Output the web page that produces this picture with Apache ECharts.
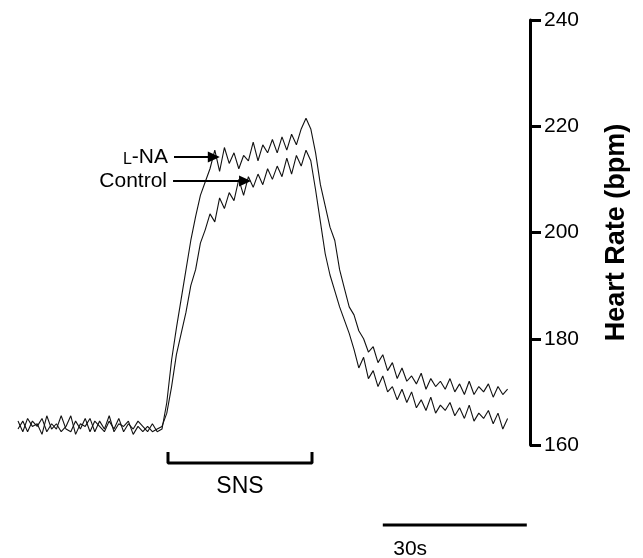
<!DOCTYPE html>
<html><head><meta charset="utf-8">
<script src="https://cdn.jsdelivr.net/npm/echarts@6/dist/echarts.min.js"></script>
<style>html,body{margin:0;padding:0;background:#fff}#c{width:643px;height:558px}</style>
</head><body><div id="c"></div>
<script>
// sampling of the traces: one value per second, starting at t = 0 s
const T_START = 0;
const T_STEP = 1;
// Control trace (bpm)
const controlHR = [
 164.5,162.5,165,163.5,164,162,165.5,163,164,162.5,
 163.5,165.5,162,164,163.5,165,162.5,164.5,163,165.5,
 162.5,164,163.5,164.5,162,163.5,162.5,163.5,162.5,163,
 163.5,166,171,177,181,185,190,193,198,200.5,
 203.5,202,206.5,204.5,207.5,206,210,207,210.5,208.5,
 211,209,212,210,212.5,210.5,214,211,214.5,212.5,
 215.5,213.5,208,202,196,192,189,186,183.5,181,
 178,174.5,176.5,172.5,174,171,173,170,171,168.5,
 170.5,168,170,167,168.5,166.5,169,166,167.5,166.5,
 168,165.5,167,165,167.5,164.5,166,165,166.5,164,
 166,163,165
];
// L-NA trace (bpm)
const lnaHR = [
 163,164.5,162.5,164.5,163.5,165,162.5,164,163,165.5,
 163,162.5,164.5,163,165,162.5,164.5,163.5,162.5,164.5,
 163,165,162.5,164,163,164.5,163.5,162.5,164,162.5,
 163,168,176,182,187.5,193,198.5,203,207,209.5,
 212,215.5,211.5,216,213,215,212,214.5,213.5,217,
 213.5,216.5,215,217.5,215,218,215.5,218.5,216.5,219.5,
 221.5,219.5,215,209,205,201,198.5,193,189.5,186,
 184.5,181.5,180,177.5,178.5,175.5,177,174,175.5,172.5,
 174.5,172,173,171.5,173.5,170.5,172.5,171,172,170.5,
 172.5,170,171.5,169.5,172,169.5,171,170,171.5,169,
 171,169.5,170.5
];
// Heart-rate axis
const yTicks = [160, 180, 200, 220, 240];
// annotations (time in s, lower panel offset units)
const snsStart = 31.25, snsEnd = 61.25;   // SNS stimulation period
const scaleStart = 76, scaleEnd = 106;    // 30 s scale bar
const lnaArrow = {from: 32.5, to: 40.8, hr: 214.2};
const ctrlArrow = {from: 32.3, to: 47.3, hr: 209.7};

const FONT = '"Liberation Sans", Arial, Helvetica, sans-serif';
const pairs = arr => arr.map((v, i) => [T_START + i * T_STEP, v]);
const XMAX = (530 - 18) / 4.8;

const chart = echarts.init(document.getElementById('c'), null, {renderer: 'canvas'});
chart.setOption({
  animation: false,
  backgroundColor: '#fff',
  grid: [
    {left: 18, width: 512, top: 20, height: 425},
    {left: 18, width: 512, top: 450, height: 108}
  ],
  xAxis: [
    {gridIndex: 0, type: 'value', min: 0, max: XMAX, show: false},
    {gridIndex: 1, type: 'value', min: 0, max: XMAX, show: false}
  ],
  yAxis: [
    {gridIndex: 0, type: 'value', position: 'right', min: yTicks[0], max: yTicks[yTicks.length - 1], interval: 20,
     splitLine: {show: false},
     axisLine: {show: true, onZero: false, lineStyle: {color: '#000', width: 3}},
     axisTick: {show: true, inside: false, length: 11, lineStyle: {color: '#000', width: 3}},
     axisLabel: {color: '#000', fontSize: 21, fontFamily: FONT, margin: 14},
     name: 'Heart Rate (bpm)', nameLocation: 'middle', nameRotate: 90, nameGap: 73,
     nameTextStyle: {color: '#000', fontSize: 27, fontWeight: 'bold', fontFamily: FONT}
    },
    {gridIndex: 1, type: 'value', min: 0, max: 108, inverse: true, show: false}
  ],
  series: [
    {type: 'line', name: 'Control', xAxisIndex: 0, yAxisIndex: 0, data: pairs(controlHR),
     showSymbol: false, lineStyle: {color: '#111', width: 1.1}, silent: true,
     markLine: {silent: true, symbol: ['none', 'triangle'], symbolSize: [11, 12],
       lineStyle: {color: '#000', width: 2, type: 'solid'},
       label: {show: true, position: 'start', distance: 6, color: '#000', fontSize: 21, fontFamily: FONT, formatter: 'Control'},
       data: [[{coord: [ctrlArrow.from, ctrlArrow.hr]}, {coord: [ctrlArrow.to, ctrlArrow.hr]}]]}
    },
    {type: 'line', name: 'L-NA', xAxisIndex: 0, yAxisIndex: 0, data: pairs(lnaHR),
     showSymbol: false, lineStyle: {color: '#111', width: 1.1}, silent: true,
     markLine: {silent: true, symbol: ['none', 'triangle'], symbolSize: [11, 12],
       lineStyle: {color: '#000', width: 2, type: 'solid'},
       label: {show: true, position: 'start', distance: 6, color: '#000', fontSize: 21, fontFamily: FONT,
         formatter: '{s|L}-NA', rich: {s: {fontSize: 16, fontFamily: FONT, color: '#000', verticalAlign: 'bottom'}}},
       data: [[{coord: [lnaArrow.from, lnaArrow.hr]}, {coord: [lnaArrow.to, lnaArrow.hr]}]]}
    },
    {type: 'line', name: 'SNS bracket', xAxisIndex: 1, yAxisIndex: 1,
     data: [[snsStart, 2], [snsStart, 13], [snsEnd, 13], [snsEnd, 2]],
     showSymbol: false, lineStyle: {color: '#000', width: 3}, silent: true},
    {type: 'scatter', name: 'SNS label', xAxisIndex: 1, yAxisIndex: 1,
     data: [[(snsStart + snsEnd) / 2, 37]], symbolSize: 1, silent: true,
     itemStyle: {opacity: 0},
     label: {show: true, position: 'inside', formatter: 'SNS', color: '#000', opacity: 1, fontSize: 23, fontFamily: FONT}},
    {type: 'line', name: '30 s bar', xAxisIndex: 1, yAxisIndex: 1,
     data: [[scaleStart, 75], [scaleEnd, 75]],
     showSymbol: false, lineStyle: {color: '#000', width: 3}, silent: true},
    {type: 'scatter', name: '30s label', xAxisIndex: 1, yAxisIndex: 1,
     data: [[scaleStart + 5.7, 99]], symbolSize: 1, silent: true,
     itemStyle: {opacity: 0},
     label: {show: true, position: 'inside', formatter: '30s', color: '#000', opacity: 1, fontSize: 21, fontFamily: FONT}}
  ]
});
</script></body></html>
